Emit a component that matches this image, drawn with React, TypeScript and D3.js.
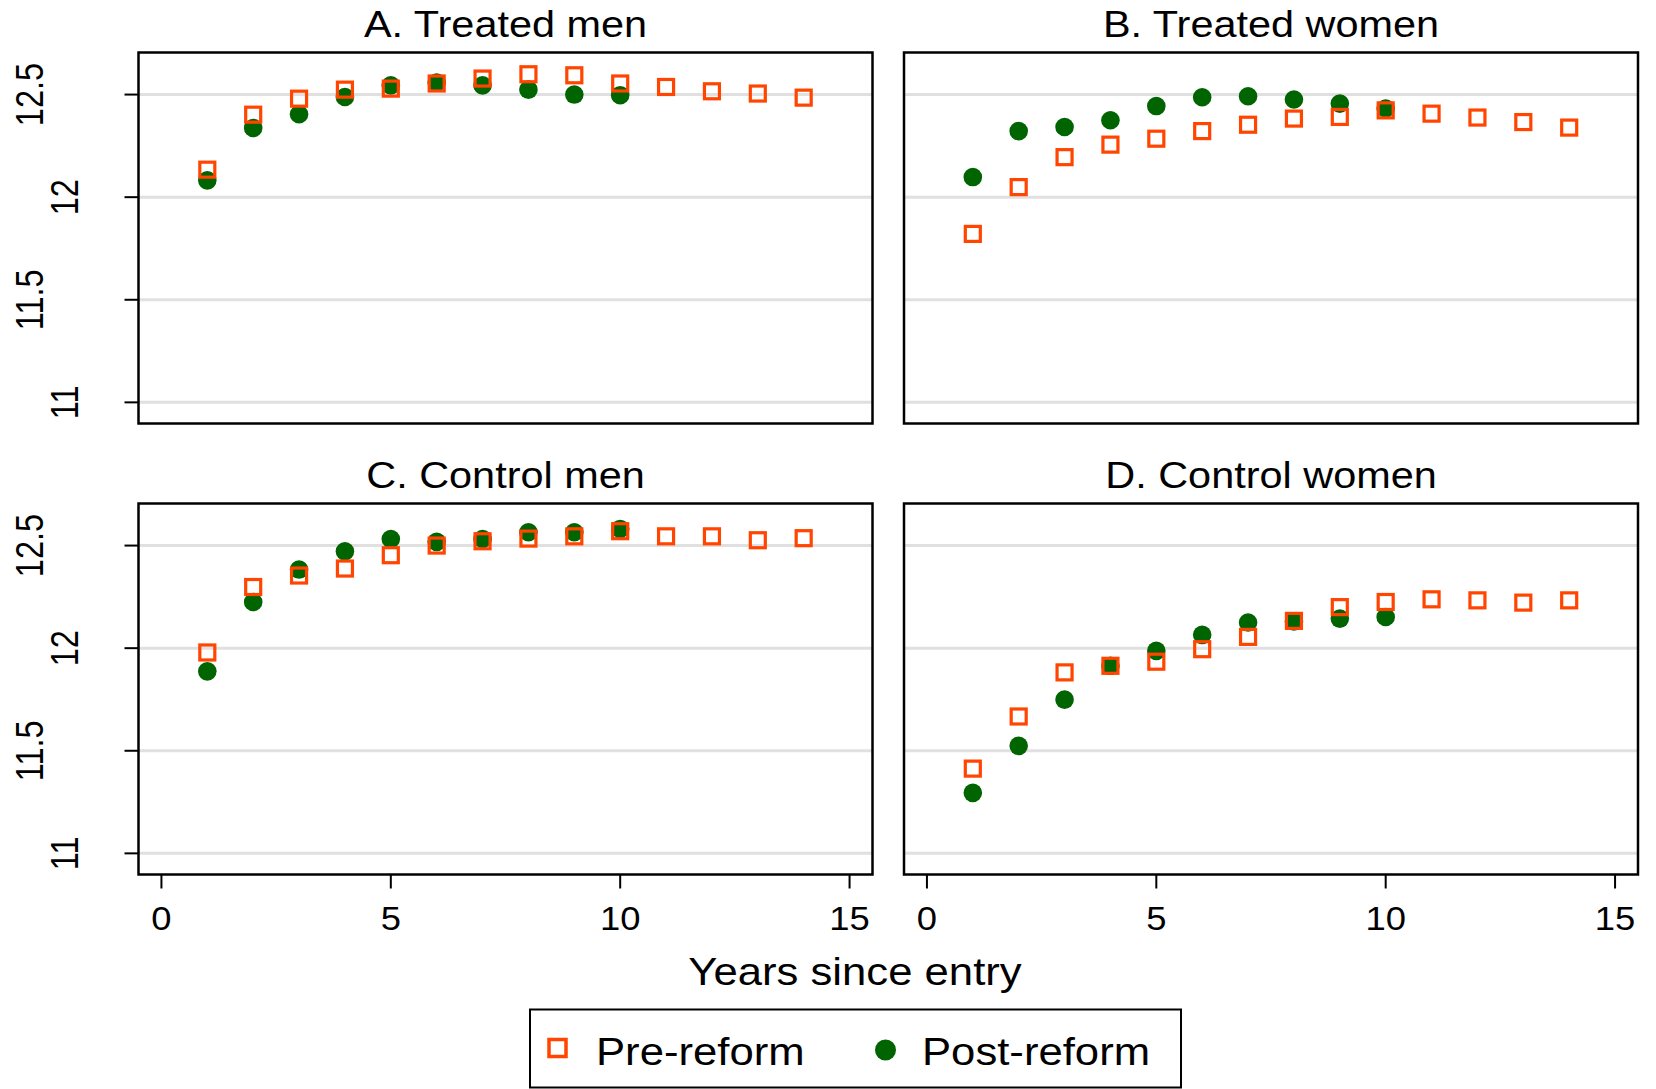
import React, { useEffect, useRef } from "react";
import * as d3 from "d3";

// years since entry
const preYears = [1, 2, 3, 4, 5, 6, 7, 8, 9, 10, 11, 12, 13, 14];
const postYears = [1, 2, 3, 4, 5, 6, 7, 8, 9, 10];

const panelTitles = ["A. Treated men", "B. Treated women", "C. Control men", "D. Control women"];

const preTreatedMen = [12.134, 12.402, 12.48, 12.524, 12.529, 12.554, 12.578, 12.599, 12.594, 12.554, 12.537, 12.516, 12.505, 12.485];
const postTreatedMen = [12.082, 12.337, 12.404, 12.488, 12.545, 12.559, 12.545, 12.524, 12.5, 12.497];
const preTreatedWomen = [11.821, 12.049, 12.195, 12.256, 12.285, 12.322, 12.353, 12.383, 12.391, 12.423, 12.407, 12.388, 12.366, 12.339];
const postTreatedWomen = [12.098, 12.322, 12.342, 12.375, 12.444, 12.487, 12.492, 12.476, 12.456, 12.432];
const preControlMen = [11.979, 12.298, 12.354, 12.388, 12.453, 12.5, 12.521, 12.534, 12.545, 12.57, 12.545, 12.545, 12.526, 12.536];
const postControlMen = [11.887, 12.225, 12.383, 12.472, 12.532, 12.518, 12.532, 12.565, 12.565, 12.581];
const preControlWomen = [11.413, 11.667, 11.882, 11.914, 11.934, 11.995, 12.055, 12.133, 12.2, 12.225, 12.238, 12.233, 12.222, 12.233];
const postControlWomen = [11.295, 11.524, 11.749, 11.914, 11.987, 12.065, 12.125, 12.13, 12.144, 12.152];

const preSeries = [preTreatedMen, preTreatedWomen, preControlMen, preControlWomen];
const postSeries = [postTreatedMen, postTreatedWomen, postControlMen, postControlWomen];

const yTicks = [11, 11.5, 12, 12.5];
const xTicks = [0, 5, 10, 15];
const legendLabels = ["Pre-reform", "Post-reform"];

const ORANGE = "#ff4500";
const GREEN = "#006400";
const FONT = "'Liberation Sans', Arial, Helvetica, sans-serif";
const STRETCH = 1.12; // the original glyphs are a bit wide

const App = () => {
  const ref = useRef<SVGSVGElement>(null);

  useEffect(() => {
    const svg = d3.select(ref.current);
    svg.selectAll("*").remove();

    const colLeft = [138.5, 904];
    const rowTop = [52.5, 503.5];
    const plotW = 734;
    const plotH = 371;

    const addText = (g, txt, x, y, size, anchor) =>
      g
        .append("text")
        .attr("transform", `translate(${x},${y}) scale(${STRETCH},1)`)
        .attr("text-anchor", anchor)
        .attr("font-family", FONT)
        .attr("font-size", size)
        .attr("fill", "#000")
        .text(txt);

    panelTitles.forEach((title, i) => {
      const col = i % 2;
      const row = Math.floor(i / 2);
      const left = colLeft[col];
      const top = rowTop[row];

      const x = d3.scaleLinear().domain([-0.5, 15.5]).range([left, left + plotW]);
      const y = d3.scaleLinear().domain([10.897, 12.705]).range([top + plotH, top]);

      const g = svg.append("g");

      // grid
      g.selectAll(".grid")
        .data(yTicks)
        .enter()
        .append("line")
        .attr("x1", left)
        .attr("x2", left + plotW)
        .attr("y1", (d) => y(d))
        .attr("y2", (d) => y(d))
        .attr("stroke", "#e0e0e0")
        .attr("stroke-width", 3);

      // post-reform dots first, squares drawn on top
      g.selectAll(".post")
        .data(postSeries[i])
        .enter()
        .append("circle")
        .attr("cx", (d, j) => x(postYears[j]))
        .attr("cy", (d) => y(d))
        .attr("r", 9.3)
        .attr("fill", GREEN);

      g.selectAll(".pre")
        .data(preSeries[i])
        .enter()
        .append("rect")
        .attr("x", (d, j) => x(preYears[j]) - 7.5)
        .attr("y", (d) => y(d) - 7.5)
        .attr("width", 15)
        .attr("height", 15)
        .attr("fill", "none")
        .attr("stroke", ORANGE)
        .attr("stroke-width", 3.2);

      // frame
      g.append("rect")
        .attr("x", left)
        .attr("y", top)
        .attr("width", plotW)
        .attr("height", plotH)
        .attr("fill", "none")
        .attr("stroke", "#000")
        .attr("stroke-width", 2.5);

      addText(g, title, left + plotW / 2, top - 16, 37, "middle");

      if (col === 0) {
        g.selectAll(".ytick")
          .data(yTicks)
          .enter()
          .append("line")
          .attr("x1", left - 14)
          .attr("x2", left)
          .attr("y1", (d) => y(d))
          .attr("y2", (d) => y(d))
          .attr("stroke", "#000")
          .attr("stroke-width", 2);

        // labels are staggered: the longer ones sit further out
        g.selectAll(".ylab")
          .data(yTicks)
          .enter()
          .append("text")
          .attr("transform", (d) => {
            const bx = String(d).length > 2 ? left - 96 : left - 61;
            return `translate(${bx},${y(d)}) scale(1.2,1) rotate(-90)`;
          })
          .attr("text-anchor", "middle")
          .attr("font-family", FONT)
          .attr("font-size", 32.5)
          .text((d) => String(d));
      }

      if (row === 1) {
        g.selectAll(".xtick")
          .data(xTicks)
          .enter()
          .append("line")
          .attr("x1", (d) => x(d))
          .attr("x2", (d) => x(d))
          .attr("y1", top + plotH)
          .attr("y2", top + plotH + 14)
          .attr("stroke", "#000")
          .attr("stroke-width", 2);

        xTicks.forEach((t) => addText(g, String(t), x(t), 930, 32.5, "middle"));
      }
    });

    addText(svg, "Years since entry", 855, 985, 39, "middle");

    // legend
    const lg = svg.append("g");
    lg.append("rect")
      .attr("x", 530)
      .attr("y", 1009.5)
      .attr("width", 651)
      .attr("height", 78)
      .attr("fill", "#fff")
      .attr("stroke", "#000")
      .attr("stroke-width", 2);
    lg.append("rect")
      .attr("x", 549)
      .attr("y", 1039.5)
      .attr("width", 17)
      .attr("height", 17)
      .attr("fill", "none")
      .attr("stroke", ORANGE)
      .attr("stroke-width", 3.5);
    lg.append("circle").attr("cx", 885.5).attr("cy", 1050).attr("r", 10.5).attr("fill", GREEN);
    addText(lg, legendLabels[0], 596, 1065, 39, "start");
    addText(lg, legendLabels[1], 922, 1065, 39, "start");
  }, []);

  return (
    <svg
      ref={ref}
      width={1656}
      height={1089}
      style={{ position: "absolute", left: 0, top: 0, background: "#fff" }}
    />
  );
};

export default App;
